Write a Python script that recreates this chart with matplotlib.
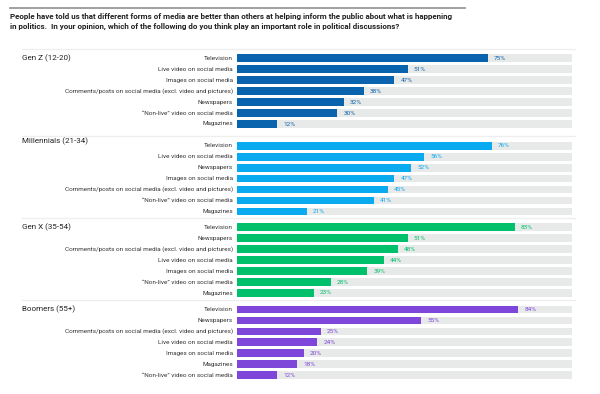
import matplotlib
matplotlib.use("Agg")
import matplotlib.pyplot as plt
from matplotlib import font_manager
from matplotlib.lines import Line2D
from matplotlib.transforms import blended_transform_factory

# --- data ---
groups = ["Gen Z (12-20)", "Millennials (21-34)", "Gen X (35-54)", "Boomers (55+)"]
NONLIVE = "\u201cNon-live\u201d video on social media"
COMMENTS = "Comments/posts on social media (excl. video and pictures)"
genz_labels = ["Television", "Live video on social media", "Images on social media",
               COMMENTS, "Newspapers", NONLIVE, "Magazines"]
genz_values = [75, 51, 47, 38, 32, 30, 12]
mill_labels = ["Television", "Live video on social media", "Newspapers",
               "Images on social media", COMMENTS, NONLIVE, "Magazines"]
mill_values = [76, 56, 52, 47, 45, 41, 21]
genx_labels = ["Television", "Newspapers", COMMENTS, "Live video on social media",
               "Images on social media", NONLIVE, "Magazines"]
genx_values = [83, 51, 48, 44, 39, 28, 23]
boom_labels = ["Television", "Newspapers", COMMENTS, "Live video on social media",
               "Images on social media", "Magazines", NONLIVE]
boom_values = [84, 55, 25, 24, 20, 18, 12]

title = ("People have told us that different forms of media are better than others at helping inform the public about what is happening\n"
         "in politics.  In your opinion, which of the following do you think play an important role in political discussions?")

colors = ["#0a64ad", "#09aaf0", "#00c06b", "#7e47da"]
track_color = "#e8e9e9"
text_color = "#333333"

# layout (pixels)
W, H = 600, 394
group_top = [58.3, 145.7, 227.3, 309.5]
label_shift = [0, -5, 0, 0]
row_step = 10.95
bar_h = 7.8

avail = {f.name for f in font_manager.fontManager.ttflist}
narrow = "Liberation Sans Narrow" if "Liberation Sans Narrow" in avail else "Roboto"
plt.rcParams["font.family"] = [narrow, "DejaVu Sans"]

fig = plt.figure(figsize=(W / 100, H / 100), dpi=100)
fig.patch.set_facecolor("white")
x0, x1 = 236.7, 572.0
ax = fig.add_axes([x0 / W, 0, (x1 - x0) / W, 1])
ax.set_xlim(0, 100)
ax.set_ylim(H, 0)
ax.axis("off")

fig_y = blended_transform_factory(fig.transFigure, ax.transData)

all_labels = [genz_labels, mill_labels, genx_labels, boom_labels]
all_values = [genz_values, mill_values, genx_values, boom_values]

for g in range(4):
    labels = all_labels[g]
    values = all_values[g]
    ys = [group_top[g] + i * row_step for i in range(len(values))]
    ax.barh(ys, [100] * len(ys), height=bar_h, color=track_color, linewidth=0)
    ax.barh(ys, values, height=bar_h, color=colors[g], linewidth=0)
    for y, lab, v in zip(ys, labels, values):
        ax.text(-1.2, y, lab, ha="right", va="center", fontsize=4.6, color=text_color)
        ax.text(v + 1.8, y, f"{v}%", ha="left", va="center", fontsize=4.6, color=colors[g])
    ax.text(22 / W, group_top[g] + label_shift[g], groups[g], transform=fig_y,
            ha="left", va="center", fontsize=5.8, color="#222222")
    sep = group_top[g] - 9.5
    fig.add_artist(Line2D([22 / W, 575 / W], [1 - sep / H, 1 - sep / H],
                          color="#eeeeee", linewidth=0.9))

# top rule and title
fig.add_artist(Line2D([10 / W, 465 / W], [1 - 8.3 / H, 1 - 8.3 / H], color="#999999", linewidth=1.3))
fig.text(10 / W, 1 - 13.5 / H, title, ha="left", va="top", fontsize=5.8,
         fontweight="bold", color="#222222", linespacing=1.35)

fig.savefig("out.png", dpi=100, facecolor="white")
